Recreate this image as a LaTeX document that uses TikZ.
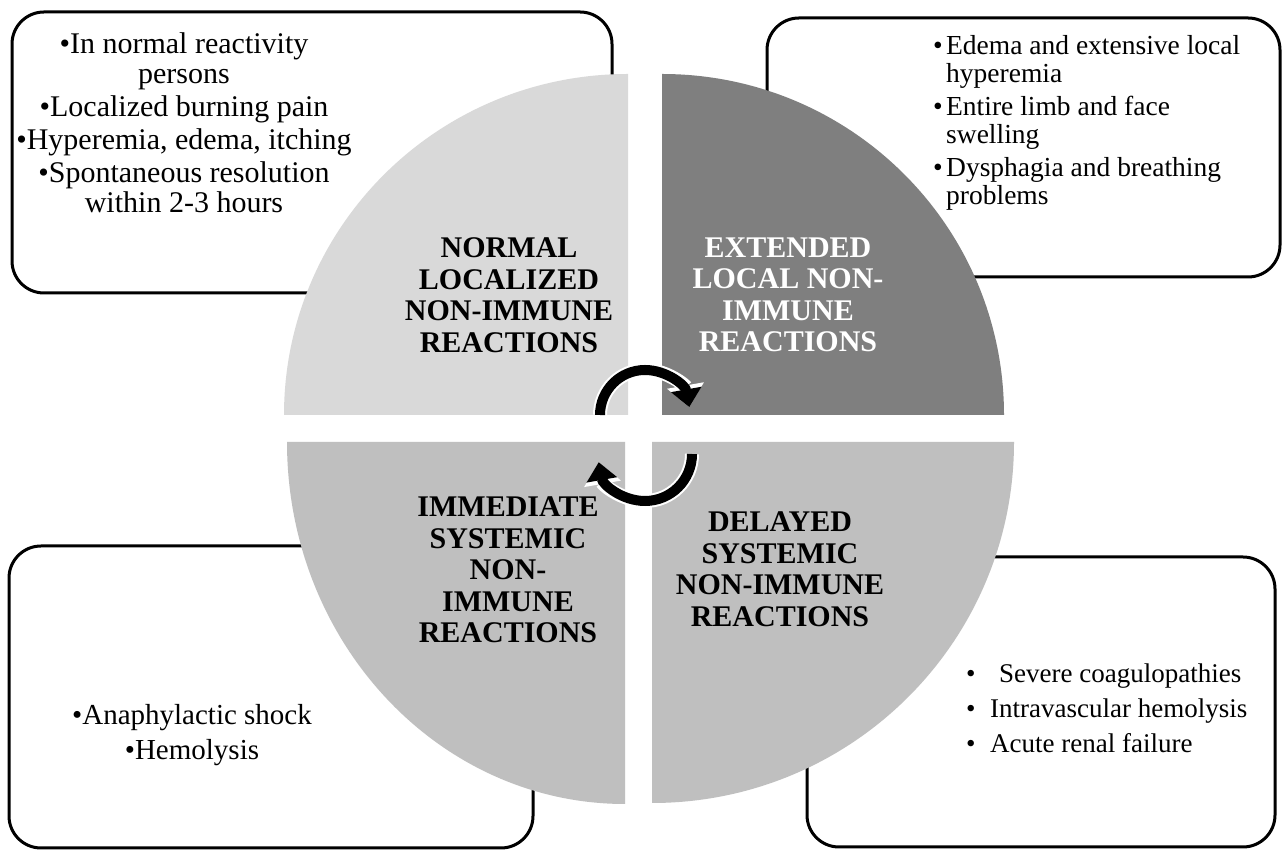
\documentclass[tikz,border=0pt]{standalone}
\usepackage{fontspec}
\setmainfont{Liberation Serif}
\usetikzlibrary{arrows.meta}
\definecolor{qlight}{HTML}{D9D9D9}
\definecolor{qdark}{HTML}{7F7F7F}
\definecolor{qmid}{HTML}{BFBFBF}
\begin{document}
\begin{tikzpicture}[x=1pt,y=1pt,
  infobox/.style={draw=black, line width=3pt, fill=white, rounded corners=32pt},
  titletext/.style={font=\fontsize{30}{31.5}\selectfont\bfseries, align=center, inner sep=0pt},
  bodytext/.style={inner sep=0pt},
  cyc/.style={line width=10pt, -{Triangle[width=30pt,length=18pt]},
    preaction={draw=white, line width=14pt, -{Triangle[width=36pt,length=22pt]}}}
]
\useasboundingbox (0,0) rectangle (1282,851);
\fill[white] (0,0) rectangle (1282,851);

% outer boxes
\draw[infobox] (12,558) rectangle (612,839);
\draw[infobox] (767,574) rectangle (1280,833);
\draw[infobox] (9,3) rectangle (533,305);
\draw[infobox] (807,4) rectangle (1275,294);

% quadrants
\fill[qlight] (628,436) -- (284,436) arc[start angle=180, end angle=90, x radius=344, y radius=341] -- cycle;
\fill[qdark] (662,436) -- (662,777) arc[start angle=90, end angle=0, x radius=342, y radius=341] -- cycle;
\fill[qmid] (625,409) -- (287,409) arc[start angle=180, end angle=270, x radius=338, y radius=362] -- cycle;
\fill[qmid] (652,409) -- (1014,409) arc[start angle=0, end angle=-90, x radius=362, y radius=361] -- cycle;

% quadrant titles
\node[titletext] (tnormal) at (509,556) {NORMAL\\LOCALIZED\\NON-IMMUNE\\REACTIONS};
\node[titletext, text=white] (textended) at (788,556) {EXTENDED\\LOCAL NON-\\IMMUNE\\REACTIONS};
\node[titletext] (timmediate) at (508,281) {IMMEDIATE\\SYSTEMIC\\NON-\\IMMUNE\\REACTIONS};
\node[titletext] (tdelayed) at (780,282) {DELAYED\\SYSTEMIC\\NON-IMMUNE\\REACTIONS};

% cycle arrows
\coordinate (atop) at (600,436);
\coordinate (abot) at (692,397);
\draw[cyc] (atop) arc[start angle=180, end angle=10, radius=45];
\draw[cyc] (abot) arc[start angle=0, end angle=-170, radius=47];

% box texts
\node[bodytext, align=center, font=\fontsize{30}{30}\selectfont] (bnormal) at (184,728)
  {•In normal reactivity\\persons\\[3pt]•Localized burning pain\\[3pt]•Hyperemia, edema, itching\\[3pt]•Spontaneous resolution\\within 2-3 hours};
\node[bodytext, align=left, anchor=west, font=\fontsize{27.5}{28.5}\selectfont] (bextended) at (933,728)
  {\makebox[13pt][l]{•}Edema and extensive local\\\hspace*{13pt}hyperemia\\[4pt]\makebox[13pt][l]{•}Entire limb and face\\\hspace*{13pt}swelling\\[4pt]\makebox[13pt][l]{•}Dysphagia and breathing\\\hspace*{13pt}problems};
\node[bodytext, align=center, font=\fontsize{29}{35}\selectfont] (bimmediate) at (192,116)
  {•Anaphylactic shock\\•Hemolysis};
\node[bodytext, align=left, anchor=west, font=\fontsize{27}{35}\selectfont] (bdelayed) at (966,143)
  {\makebox[33pt][l]{•}Severe coagulopathies\\\makebox[24pt][l]{•}Intravascular hemolysis\\\makebox[24pt][l]{•}Acute renal failure};
\end{tikzpicture}
\end{document}
